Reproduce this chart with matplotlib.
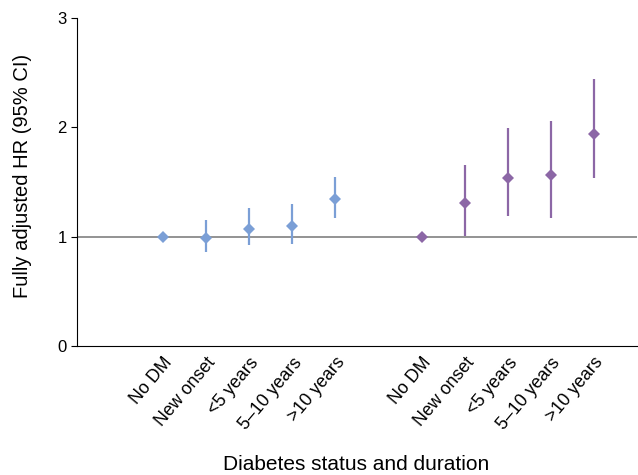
import matplotlib
matplotlib.use('Agg')
import matplotlib.pyplot as plt
import numpy as np

plt.rcParams['font.family'] = ['Liberation Sans', 'DejaVu Sans']

# categories and estimates
labels = ['No DM', 'New onset', '<5 years', '5\u201310 years', '>10 years']
blue_hr = [1.00, 0.99, 1.07, 1.10, 1.34]
blue_lo = [1.00, 0.86, 0.92, 0.93, 1.17]
blue_hi = [1.00, 1.15, 1.26, 1.30, 1.55]
purple_hr = [1.00, 1.31, 1.54, 1.56, 1.94]
purple_lo = [1.00, 1.01, 1.19, 1.17, 1.54]
purple_hi = [1.00, 1.66, 1.99, 2.06, 2.44]

blue = '#7b9fd6'
purple = '#8c67a6'

fig = plt.figure(figsize=(6.38, 4.75), dpi=100)
ax = fig.add_axes([77/638, 1-346/475, 560/638, 328/475])

ax.axhline(1, color='#808080', lw=1.2, zorder=1)

xb = np.arange(5)
xp = np.arange(6, 11)

def draw(x, hr, lo, hi, c):
    hr = np.array(hr); lo = np.array(lo); hi = np.array(hi)
    ax.vlines(x, lo, hi, color=c, lw=1.6, zorder=2)
    ax.plot(x, hr, 'D', color=c, markersize=6.5, zorder=3, markeredgewidth=0)

draw(xb, blue_hr, blue_lo, blue_hi, blue)
draw(xp, purple_hr, purple_lo, purple_hi, purple)

ax.set_xlim(-2, 11)
ax.set_ylim(0, 3)
ax.set_yticks([0, 1, 2, 3])
ax.set_xticks(list(xb) + list(xp))
ax.set_xticklabels(labels + labels, rotation=50, ha='right', rotation_mode='anchor', fontsize=12.8)
ax.tick_params(axis='x', length=0, pad=6)
ax.tick_params(axis='y', labelsize=12, length=4)
ax.spines['top'].set_visible(False)
ax.spines['right'].set_visible(False)
ax.set_ylabel('Fully adjusted HR (95% CI)', fontsize=14.5)
ax.set_xlabel('Diabetes status and duration', fontsize=15)
ax.yaxis.set_label_coords(-0.08, 0.52)
ax.xaxis.set_label_coords(0.498, -0.332)

fig.savefig('out.png', dpi=100)
